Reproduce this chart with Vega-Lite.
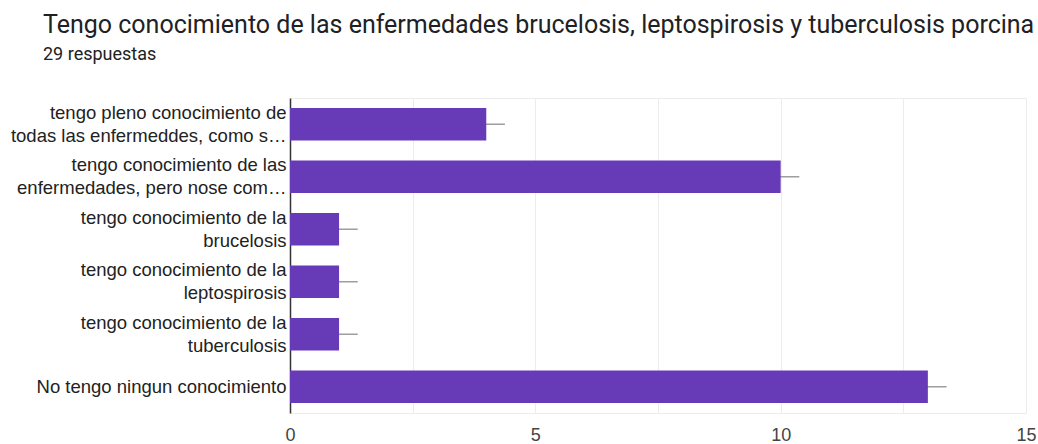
{
  "$schema": "https://vega.github.io/schema/vega-lite/v6.json",
  "width": 736,
  "height": 315,
  "autosize": "none",
  "padding": {"left": 290, "top": 98, "right": 12, "bottom": 31},
  "background": "white",
  "title": {
    "text": "Tengo conocimiento de las enfermedades brucelosis, leptospirosis y tuberculosis porcina",
    "subtitle": "29 respuestas",
    "anchor": "start",
    "frame": "group",
    "dx": -247,
    "offset": 34,
    "font": "Roboto",
    "fontSize": 25,
    "fontWeight": "normal",
    "color": "#202124",
    "subtitleFont": "Roboto",
    "subtitleFontSize": 18,
    "subtitleColor": "#202124",
    "subtitlePadding": 8
  },
  "data": {
    "values": [
      {"respuesta": "tengo pleno conocimiento de\ntodas las enfermeddes, como s…", "cantidad": 4, "err": 0.38},
      {"respuesta": "tengo conocimiento de las\nenfermedades, pero nose com…", "cantidad": 10, "err": 0.38},
      {"respuesta": "tengo conocimiento de la\nbrucelosis", "cantidad": 1, "err": 0.38},
      {"respuesta": "tengo conocimiento de la\nleptospirosis", "cantidad": 1, "err": 0.38},
      {"respuesta": "tengo conocimiento de la\ntuberculosis", "cantidad": 1, "err": 0.38},
      {"respuesta": "No tengo ningun conocimiento", "cantidad": 13, "err": 0.38}
    ]
  },
  "config": {
    "view": {"stroke": "#ececec", "strokeWidth": 1},
    "axis": {"labelFont": "Liberation Sans"}
  },
  "encoding": {
    "y": {
      "field": "respuesta",
      "type": "nominal",
      "sort": null,
      "scale": {"paddingInner": 0.38, "paddingOuter": 0.19},
      "axis": {
        "title": null,
        "ticks": false,
        "domain": true,
        "domainColor": "#333333",
        "domainWidth": 1.5,
        "labelExpr": "split(datum.label, '\\n')",
        "labelFontSize": 18.5,
        "labelLineHeight": 23,
        "labelColor": "#222222",
        "labelPadding": 4,
        "labelLimit": 300,
        "labelOffset": {"condition": {"test": "indexof(datum.label, '\\n') >= 0", "value": -11.5}, "value": 0}
      }
    }
  },
  "layer": [
    {
      "mark": {"type": "errorbar", "color": "#9e9e9e", "thickness": 1.5},
      "encoding": {
        "x": {"field": "cantidad", "type": "quantitative"},
        "xError": {"field": "err"}
      }
    },
    {
      "mark": {"type": "bar", "color": "#673ab7"},
      "encoding": {
        "x": {
          "field": "cantidad",
          "type": "quantitative",
          "scale": {"domain": [0, 15], "nice": false},
          "axis": {
            "title": null,
            "values": [0, 2.5, 5, 7.5, 10, 12.5, 15],
            "labelExpr": "datum.value % 5 === 0 ? datum.label : ''",
            "ticks": false,
            "domain": false,
            "grid": true,
            "gridColor": "#ececec",
            "labelFontSize": 18,
            "labelColor": "#444444",
            "labelPadding": 13,
            "labelFlush": false
          }
        }
      }
    }
  ]
}
